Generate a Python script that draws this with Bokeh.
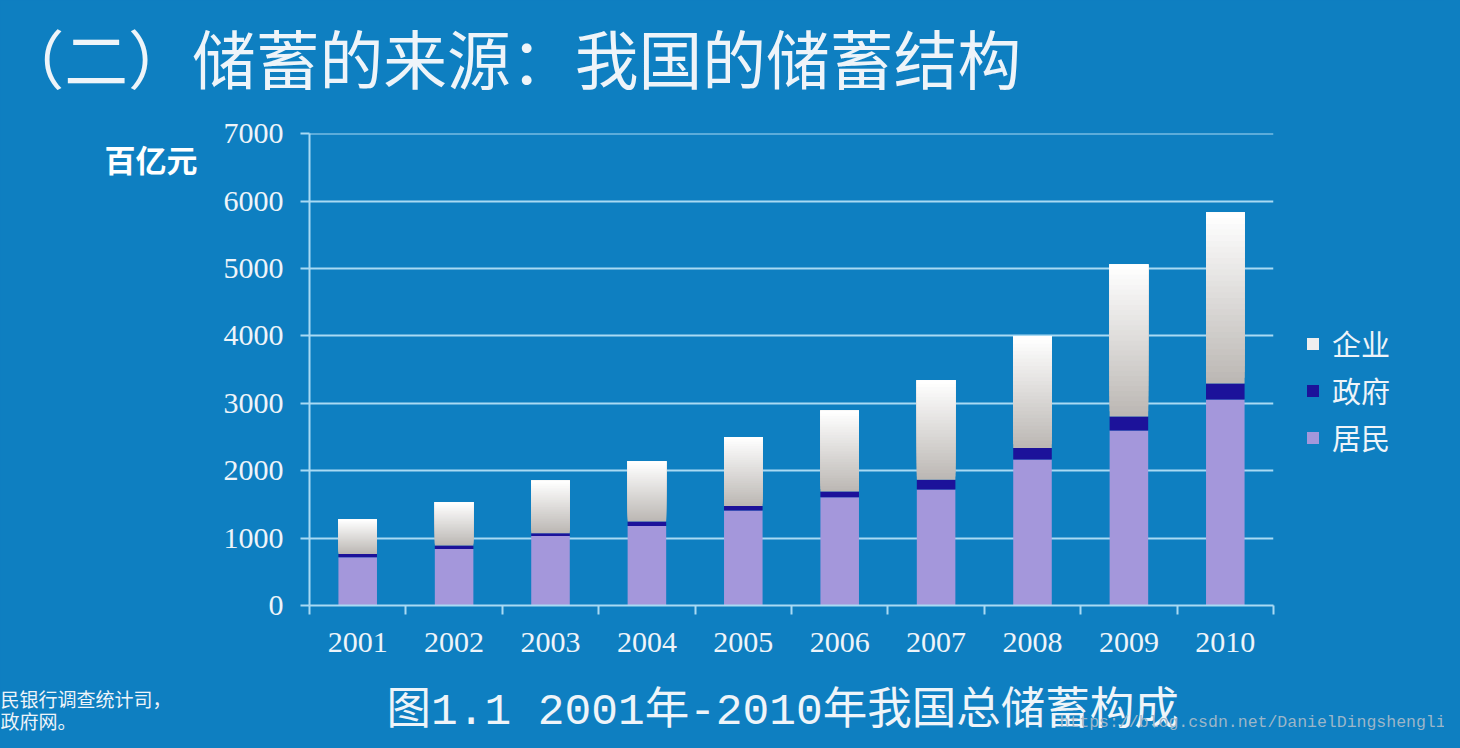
from bokeh.plotting import figure
from bokeh.models import (ColumnDataSource, FixedTicker, Label, Legend, LegendItem, Range1d, GridBox)
from bokeh.embed import file_html
from bokeh.resources import INLINE

# ---- data (百亿元) ----
years = ["2001", "2002", "2003", "2004", "2005", "2006", "2007", "2008", "2009", "2010"]
resident = [715, 840, 1030, 1180, 1410, 1605, 1720, 2165, 2595, 3055]
government = [50, 50, 40, 65, 65, 85, 145, 170, 210, 240]
enterprise = [510, 640, 780, 895, 1025, 1200, 1475, 1660, 2255, 2535]
y_ticks = [0, 1000, 2000, 3000, 4000, 5000, 6000, 7000]
series_names = ["企业", "政府", "居民"]

title_text = "（二）储蓄的来源：我国的储蓄结构"
unit_text = "百亿元"
caption_text = "图1.1 2001年-2010年我国总储蓄构成"
source_lines = ["民银行调查统计司，", "政府网。"]
watermark_text = "https://blog.csdn.net/DanielDingshengli"

W, H = 1444, 732
BG = "#0E7FC1"
AXIS = "#A9DAF3"
TXT = "#EEF4F9"
PURPLE = "#A497DB"
NAVY = "#1C129A"
ENT_KEY = "#EFEFEF"

xs = [i + 1 for i in range(len(years))]
gov_top = [r + g for r, g in zip(resident, government)]
total = [t + e for t, e in zip(gov_top, enterprise)]

# ---------- background page layer: free texts and legend ----------
bg = figure(width=W, height=H, x_range=Range1d(0, W), y_range=Range1d(H, 0),
            x_axis_location=None, y_axis_location=None, output_backend="svg",
            toolbar_location=None, min_border=0)
bg.frame_align = False
bg.background_fill_color = BG
bg.border_fill_color = BG
bg.outline_line_color = None
bg.grid.visible = False

def add_text(x, y, text, size, font="Noto Sans CJK SC", color=TXT, style="normal"):
    bg.add_layout(Label(x=x, y=y, text=text, text_baseline="middle", text_align="left",
                        text_font=font, text_font_size=size, text_color=color,
                        text_font_style=style))

add_text(0, 55, title_text, "63.8px")
add_text(104, 158, unit_text, "31px", color="#FFFFFF", style="bold")
add_text(386, 711, caption_text, "44.5px", font="Liberation Mono, Noto Sans CJK SC")
add_text(0, 698, source_lines[0], "19px")
add_text(0, 720, source_lines[1], "19px")
add_text(1059, 722, watermark_text, "16.5px", font="Liberation Mono", color="#9CB6C9")

# legend keys: hidden copies of the series (only their styles show in the legend)
k_ent = bg.vbar(x=xs, bottom=gov_top, top=total, width=0.4, fill_color=ENT_KEY, line_color=None, visible=False)
k_gov = bg.vbar(x=xs, bottom=resident, top=gov_top, width=0.4, fill_color=NAVY, line_color=None, visible=False)
k_res = bg.vbar(x=xs, bottom=0, top=resident, width=0.4, fill_color=PURPLE, line_color=None, visible=False)
legend = Legend(items=[
    LegendItem(label=series_names[0], renderers=[k_ent]),
    LegendItem(label=series_names[1], renderers=[k_gov]),
    LegendItem(label=series_names[2], renderers=[k_res]),
], location=(1305, 274))
legend.background_fill_alpha = 0
legend.border_line_color = None
legend.inactive_fill_alpha = 0
legend.padding = 0
legend.margin = 0
legend.glyph_width = 15
legend.glyph_height = 15
legend.label_standoff = 12
legend.label_height = 30
legend.spacing = 5
legend.label_text_font = "Noto Sans CJK SC"
legend.label_text_font_size = "29px"
legend.label_text_color = TXT
bg.add_layout(legend, "center")

# ---------- chart layer ----------
p = figure(width=W, height=H, x_range=Range1d(0.5, 10.5), y_range=Range1d(0, 7002),
           output_backend="svg", toolbar_location=None,
           min_border_left=309, min_border_right=W - 1273, min_border_top=133, min_border_bottom=H - 605)
p.frame_align = False
p.background_fill_alpha = 0
p.border_fill_alpha = 0
p.outline_line_color = None

p.vbar(x=xs, bottom=0, top=resident, width=0.4, fill_color=PURPLE, line_color=None)
p.vbar(x=xs, bottom=resident, top=gov_top, width=0.4, fill_color=NAVY, line_color=None)

# enterprise bars: white-to-grey vertical gradient built from overlapping slices
N = 30
gx, gb, gt, gc = [], [], [], []
for k in range(N):
    f = k / (N - 1)
    r = int(round(188 + (255 - 188) * f))
    g = int(round(184 + (255 - 184) * f))
    b = int(round(180 + (255 - 180) * f))
    col = "#%02x%02x%02x" % (r, g, b)
    for i in range(len(xs)):
        gx.append(xs[i])
        gb.append(gov_top[i] + enterprise[i] * k / N)
        gt.append(total[i])
        gc.append(col)
src = ColumnDataSource(dict(x=gx, bottom=gb, top=gt, color=gc))
p.vbar(x="x", bottom="bottom", top="top", width=0.4, fill_color="color",
       line_color=None, source=src)

p.xgrid.visible = False
p.ygrid.ticker = FixedTicker(ticks=y_ticks)
p.ygrid.grid_line_color = AXIS
p.ygrid.grid_line_width = 2

p.xaxis.ticker = FixedTicker(ticks=xs, minor_ticks=[0.5 + i for i in range(len(years) + 1)])
p.xaxis.major_label_overrides = {x: y for x, y in zip(xs, years)}
p.xaxis.major_tick_line_color = None
p.xaxis.major_tick_out = 0
p.xaxis.major_tick_in = 0
p.xaxis.minor_tick_out = 9
p.xaxis.minor_tick_in = 0
p.xaxis.minor_tick_line_color = AXIS
p.xaxis.minor_tick_line_width = 2
p.xaxis.major_label_standoff = 18

p.yaxis.ticker = FixedTicker(ticks=y_ticks)
p.yaxis.major_tick_out = 9
p.yaxis.major_tick_in = 0
p.yaxis.major_tick_line_color = AXIS
p.yaxis.major_tick_line_width = 2
p.yaxis.minor_tick_line_color = None
p.yaxis.major_label_standoff = 17

for ax in (p.xaxis[0], p.yaxis[0]):
    ax.axis_line_color = AXIS
    ax.axis_line_width = 2
    ax.major_label_text_font = "Liberation Serif"
    ax.major_label_text_font_size = "30px"
    ax.major_label_text_color = TXT

layout = GridBox(children=[(bg, 0, 0), (p, 0, 0)])

html = file_html(layout, INLINE, title="我国的储蓄结构")
html = html.replace("<head>", "<head><style>body{background-color:%s;}</style>" % BG, 1)
open("out.html", "w").write(html)
